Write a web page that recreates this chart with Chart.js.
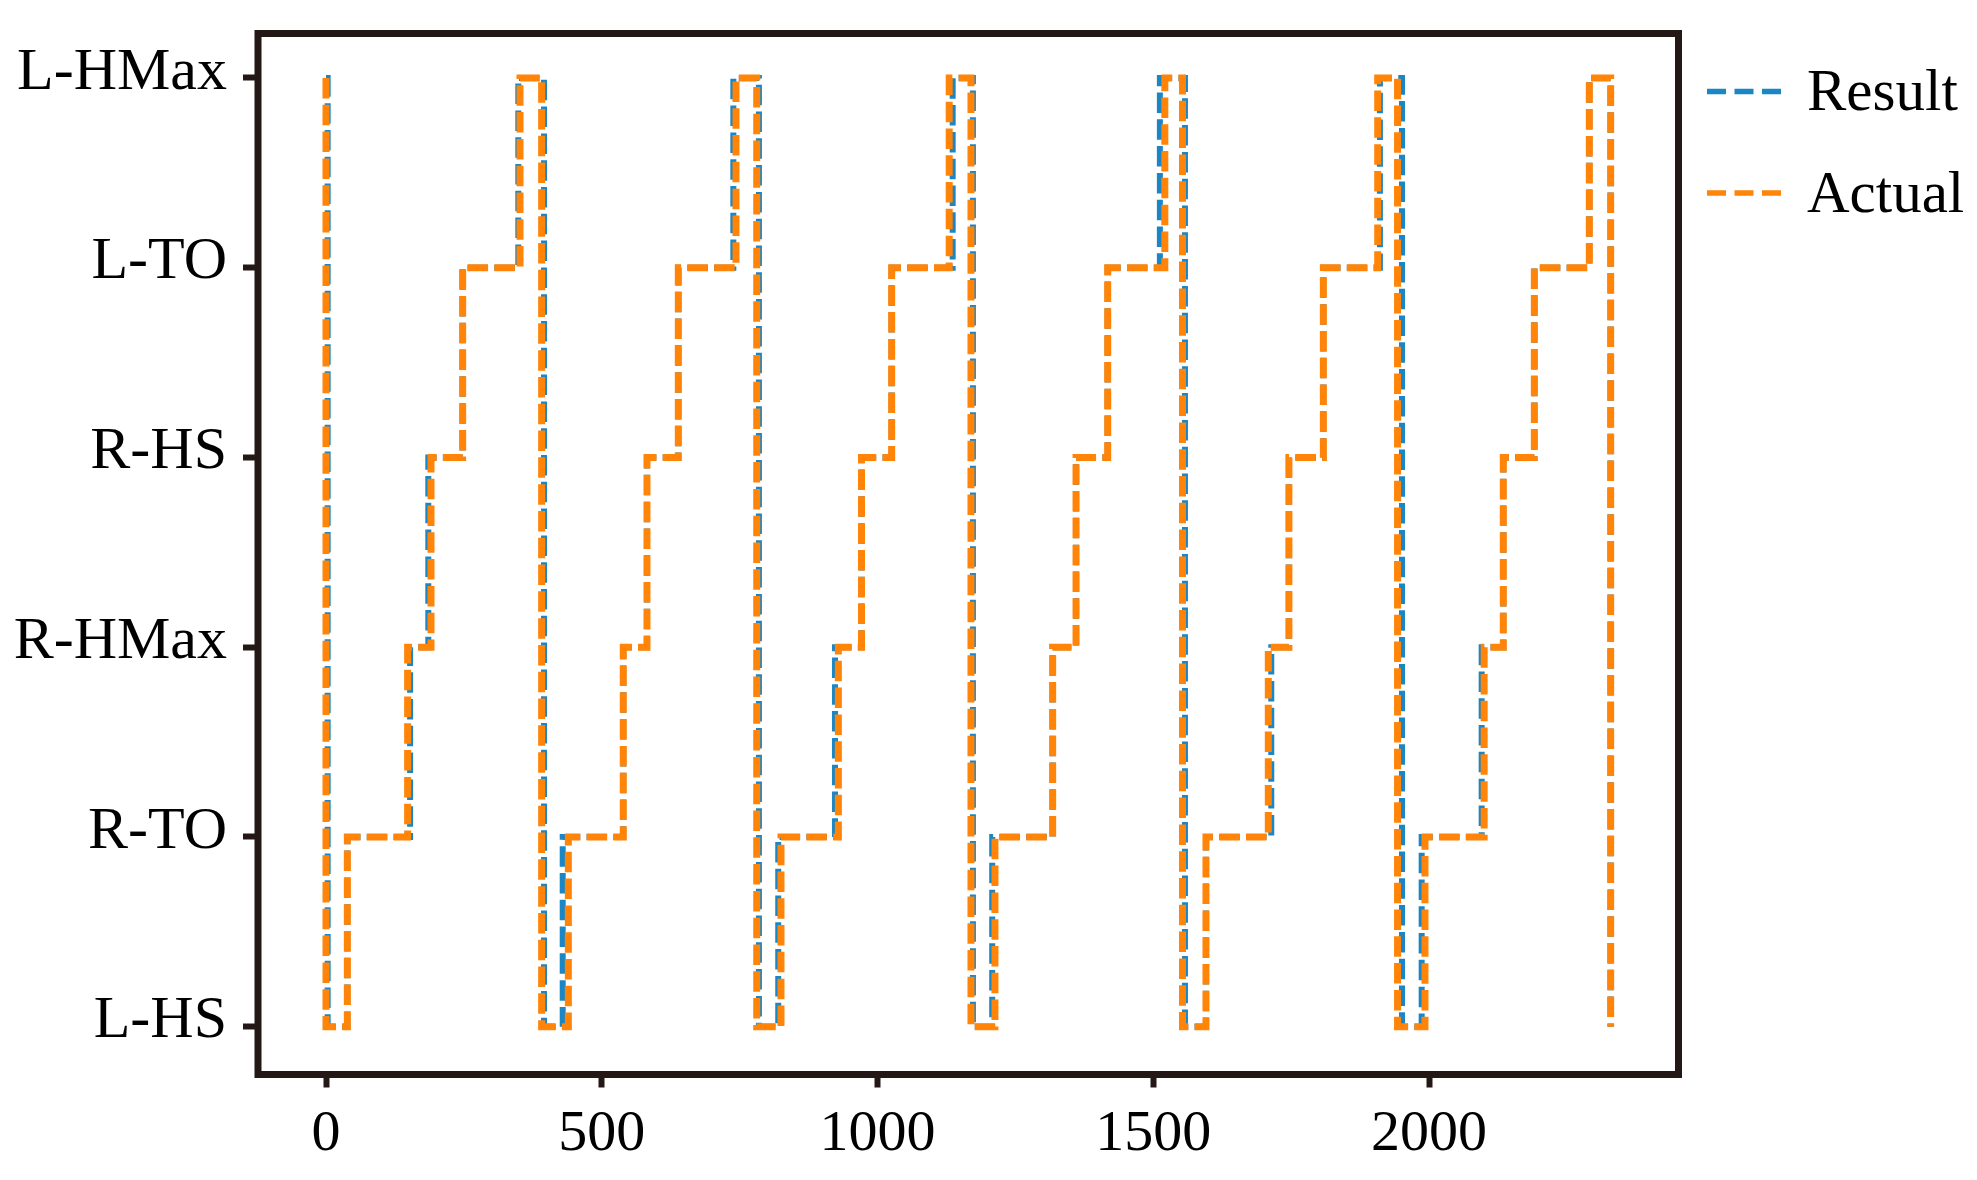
<!DOCTYPE html>
<html>
<head>
<meta charset="utf-8">
<script src="https://cdn.jsdelivr.net/npm/chart.js@4.4.1/dist/chart.umd.min.js"></script>
<style>
  html, body { margin: 0; padding: 0; background: #ffffff; }
  #wrap { width: 1977px; height: 1180px; position: relative; }
</style>
</head>
<body>
<div id="wrap"><canvas id="c"></canvas></div>
<script>
// ---- data ----
const categories = ['L-HS', 'R-TO', 'R-HMax', 'R-HS', 'L-TO', 'L-HMax'];
const xTicks = [0, 500, 1000, 1500, 2000];

// Result: frame index where each new phase starts, and the phase level (index into categories)
const resultX = [0, 3, 38.7, 152.5, 185.5, 247.8, 348.7, 395.3, 429.2, 539, 582, 638.8, 738.6, 785,
  820, 923, 971, 1025.7, 1136.3, 1173, 1208, 1317.6, 1360, 1417.4, 1512, 1557.5, 1595.6, 1714, 1746,
  1808.4, 1911, 1951, 1986.7, 2095.5, 2134.7, 2191, 2290.7, 2329.4];
const resultLevel = [5, 0, 1, 2, 3, 4, 5, 0, 1, 2, 3, 4, 5, 0,
  1, 2, 3, 4, 5, 0, 1, 2, 3, 4, 5, 0, 1, 2, 3,
  4, 5, 0, 1, 2, 3, 4, 5, 0];

// Actual
const actualX = [0, 0, 38.7, 148, 190.4, 247.8, 351.8, 391, 439.4, 539, 582, 638.8, 743.4, 781,
  825, 929, 971, 1025.7, 1130, 1169.5, 1213, 1317.6, 1360, 1417.4, 1521, 1553, 1595.6, 1708.6, 1746,
  1808.4, 1907, 1943, 1992.7, 2100, 2134.7, 2191, 2290.7, 2329.4];
const actualLevel = [5, 0, 1, 2, 3, 4, 5, 0, 1, 2, 3, 4, 5, 0,
  1, 2, 3, 4, 5, 0, 1, 2, 3, 4, 5, 0, 1, 2, 3,
  4, 5, 0, 1, 2, 3, 4, 5, 0];

const seriesNames = ['Result', 'Actual'];
const seriesColors = ['#1a86c6', '#ff8408'];

// ---- chart ----
const FRAME = '#231815';
const toPoints = (xs, ys) => xs.map((x, i) => ({ x: x, y: ys[i] }));

const framePlugin = {
  id: 'frame',
  afterDatasetsDraw(chart) {
    const { ctx, chartArea: a } = chart;
    ctx.save();
    ctx.strokeStyle = FRAME;
    ctx.lineWidth = 7;
    ctx.lineJoin = 'miter';
    ctx.strokeRect(a.left, a.top, a.right - a.left, a.bottom - a.top);
    ctx.restore();
  }
};

const legendPlugin = {
  id: 'sideLegend',
  afterDraw(chart) {
    const { ctx } = chart;
    const rows = [91.5, 193];
    ctx.save();
    chart.data.datasets.forEach((ds, i) => {
      const y = rows[i];
      ctx.strokeStyle = ds.borderColor;
      ctx.lineWidth = 5.5;
      ctx.lineCap = 'butt';
      ctx.setLineDash([19, 8.5]);
      ctx.beginPath();
      ctx.moveTo(1707, y);
      ctx.lineTo(1781, y);
      ctx.stroke();
      ctx.setLineDash([]);
      ctx.fillStyle = '#000000';
      ctx.font = '59px "Liberation Serif", "Times New Roman", serif';
      ctx.textBaseline = 'alphabetic';
      ctx.textAlign = 'left';
      ctx.fillText(ds.label, 1807, y + 18.5);
    });
    ctx.restore();
  }
};

new Chart(document.getElementById('c'), {
  type: 'line',
  data: {
    datasets: [
      {
        label: seriesNames[0],
        data: toPoints(resultX, resultLevel),
        borderColor: seriesColors[0],
        borderWidth: 6,
        borderDash: [20.5, 6.3],
        stepped: 'before',
        pointRadius: 0,
        fill: false,
        order: 2
      },
      {
        label: seriesNames[1],
        data: toPoints(actualX, actualLevel),
        borderColor: seriesColors[1],
        borderWidth: 7,
        borderDash: [20.5, 6.3],
        stepped: 'before',
        pointRadius: 0,
        fill: false,
        order: 1
      }
    ]
  },
  options: {
    responsive: true,
    maintainAspectRatio: false,
    devicePixelRatio: 1,
    animation: false,
    events: [],
    layout: { padding: { top: 33.5, right: 298.5, left: 0, bottom: 0 } },
    plugins: {
      legend: { display: false },
      tooltip: { enabled: false }
    },
    scales: {
      x: {
        type: 'linear',
        min: -123.3,
        max: 2452.4,
        afterBuildTicks(scale) { scale.ticks = xTicks.map(v => ({ value: v })); },
        afterFit(scale) { scale.height = 105.5; scale.paddingLeft = 0; scale.paddingRight = 0; },
        border: { display: false },
        grid: { drawOnChartArea: false, drawTicks: true, tickLength: 13, tickWidth: 6, tickColor: FRAME },
        ticks: {
          color: '#000000',
          padding: 12,
          maxRotation: 0,
          font: { family: '"Liberation Serif", "Times New Roman", serif', size: 58 },
          callback: (v) => String(v)
        }
      },
      y: {
        type: 'linear',
        min: -0.252,
        max: 5.2345,
        afterBuildTicks(scale) { scale.ticks = categories.map((c, i) => ({ value: i })); },
        afterFit(scale) { scale.width = 258; scale.paddingTop = 0; scale.paddingBottom = 0; },
        border: { display: false },
        grid: { drawOnChartArea: false, drawTicks: true, tickLength: 15, tickWidth: 6, tickColor: FRAME },
        ticks: {
          color: '#000000',
          padding: 16,
          labelOffset: -5,
          font: { family: '"Liberation Serif", "Times New Roman", serif', size: 60 },
          callback: (v) => categories[v] !== undefined ? categories[v] : ''
        }
      }
    }
  },
  plugins: [framePlugin, legendPlugin]
});
</script>
</body>
</html>
